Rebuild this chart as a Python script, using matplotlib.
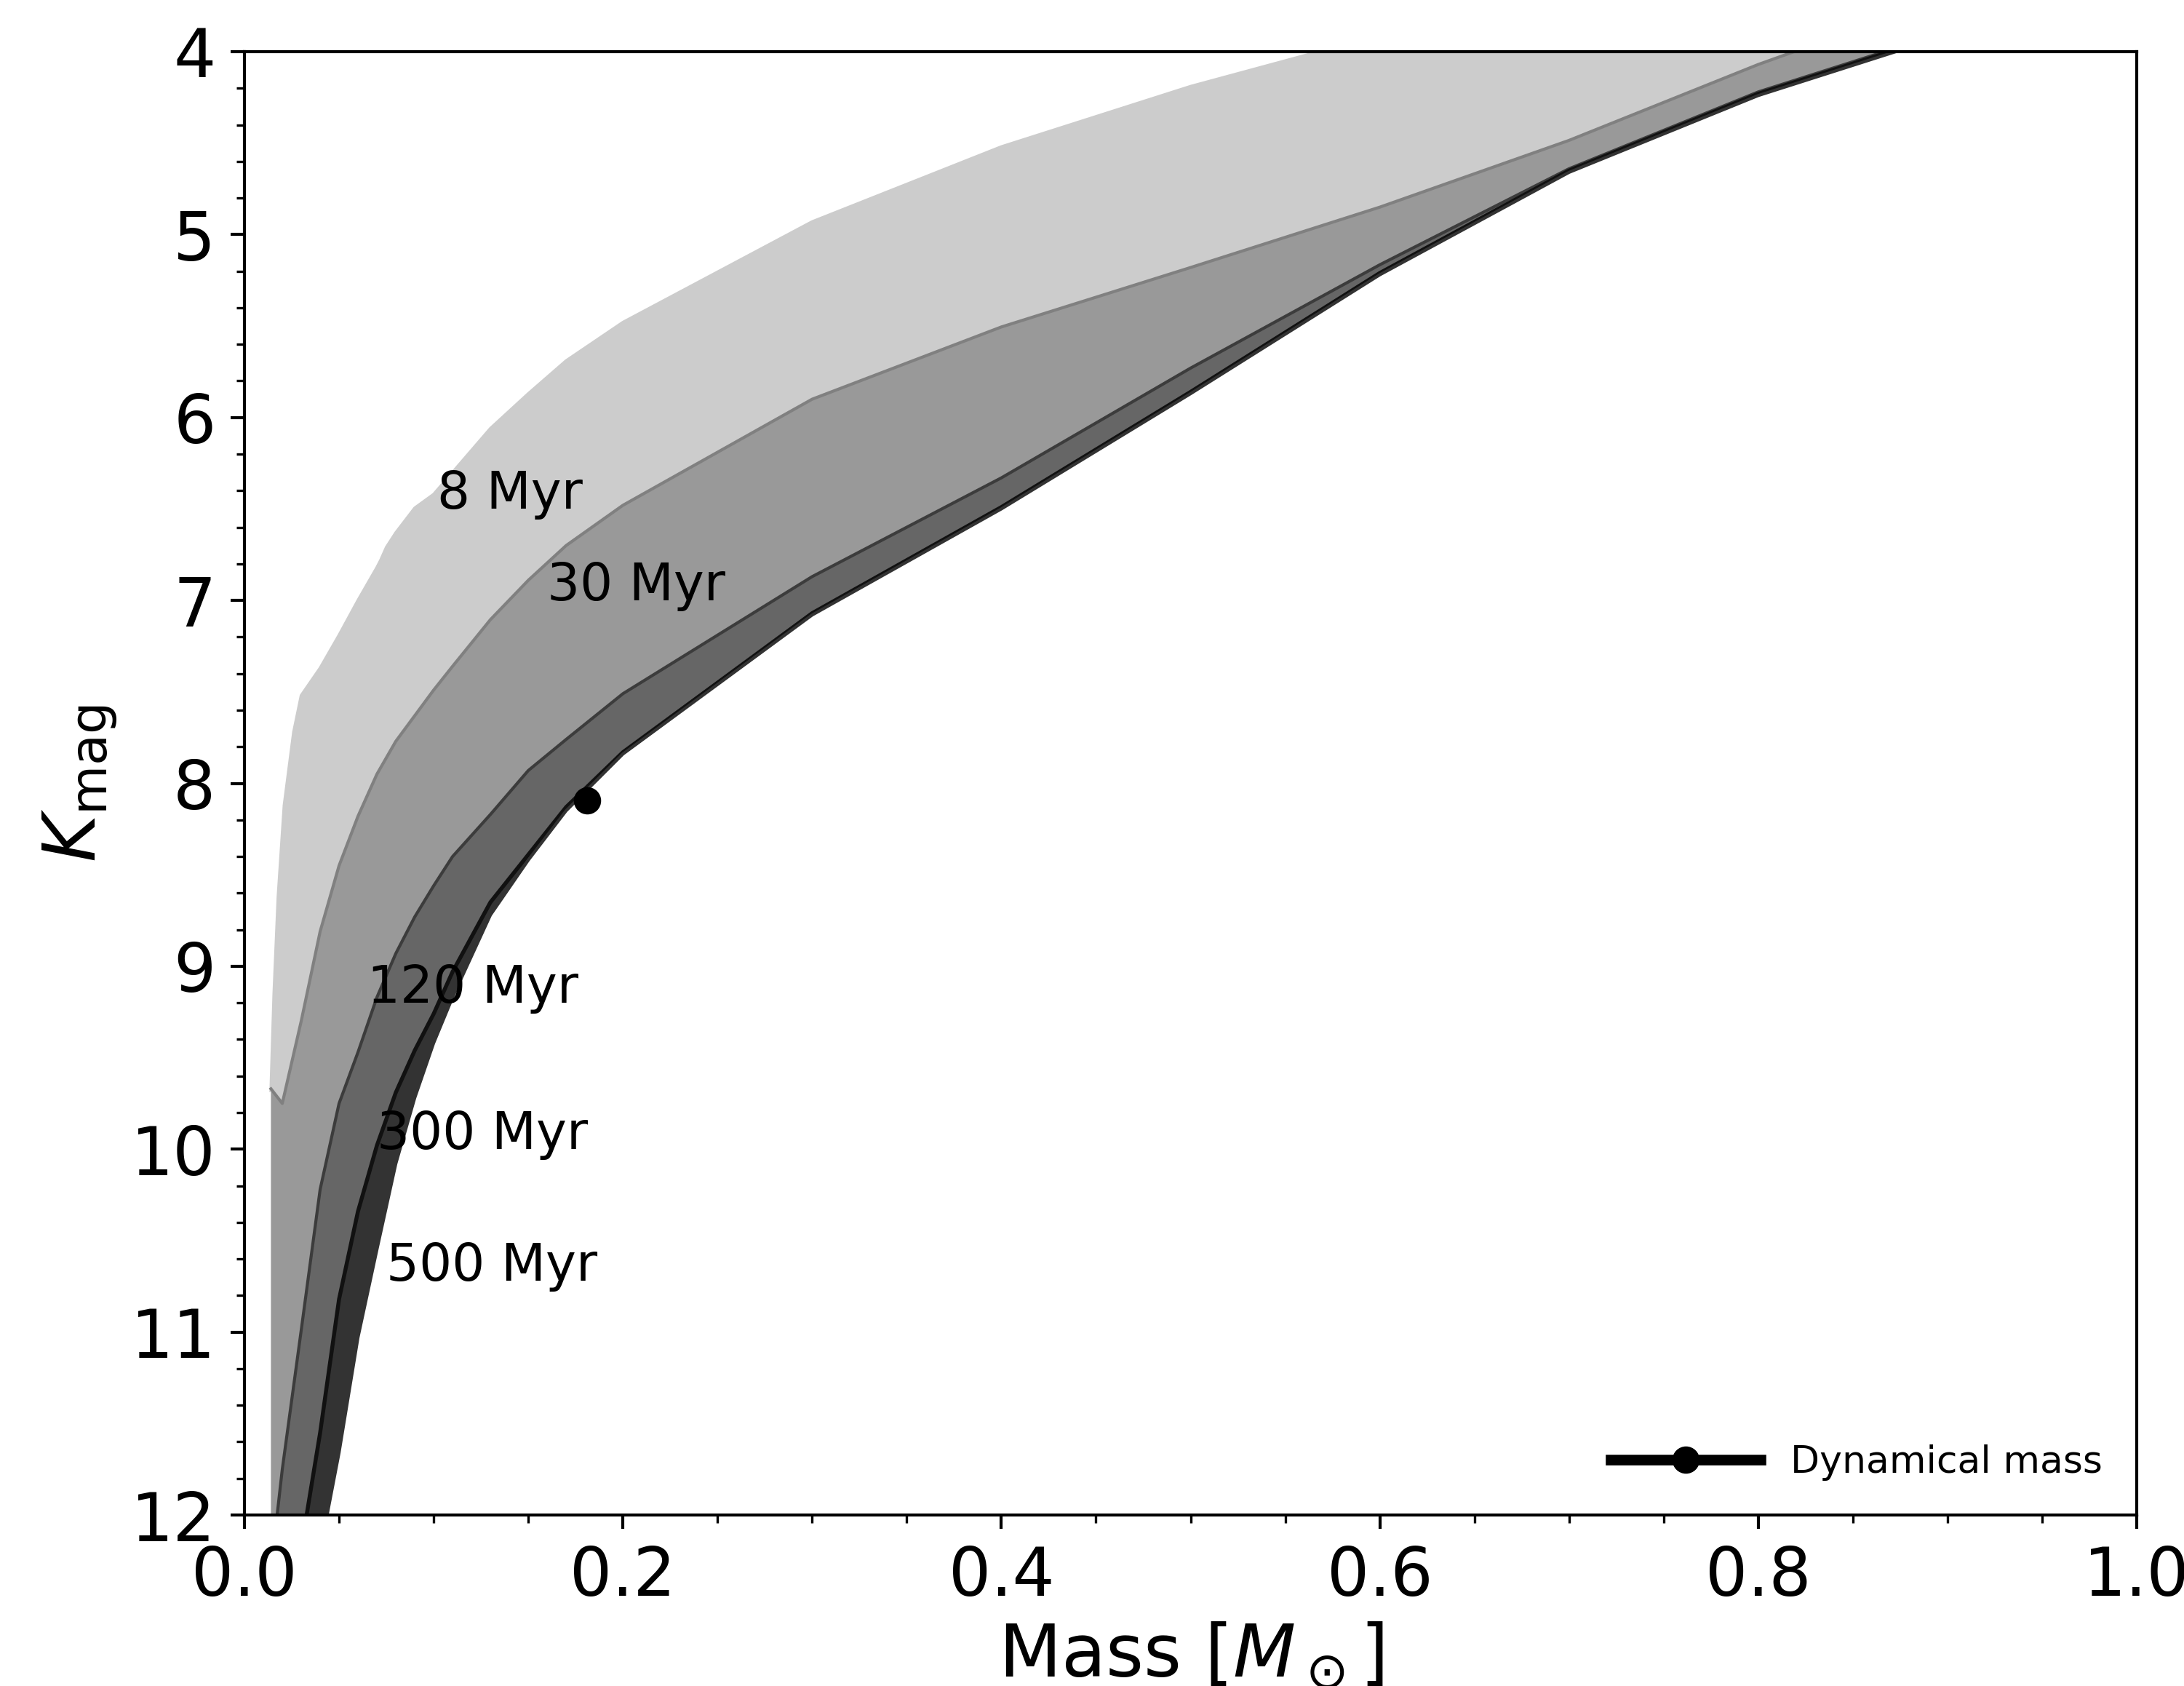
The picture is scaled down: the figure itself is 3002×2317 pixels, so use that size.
import matplotlib
matplotlib.use("Agg")
import matplotlib.pyplot as plt
from matplotlib.ticker import MultipleLocator
import numpy as np

# ---- isochrone data (mass [Msun], K magnitude) ----
m8 = [0.014, 0.0156, 0.0178, 0.021, 0.026, 0.03, 0.04, 0.05, 0.06, 0.07, 0.072,
      0.075, 0.08, 0.09, 0.10, 0.11, 0.13, 0.15, 0.17, 0.20, 0.30, 0.40, 0.50, 0.60]
k8 = [9.68, 9.15, 8.62, 8.12, 7.72, 7.52, 7.37, 7.19, 7.00, 6.82, 6.78,
      6.71, 6.63, 6.495, 6.42, 6.30, 6.06, 5.87, 5.69, 5.48, 4.93, 4.52, 4.19, 3.91]

m30 = [0.014, 0.02, 0.03, 0.04, 0.05, 0.06, 0.07, 0.08, 0.09, 0.10, 0.11, 0.13,
       0.15, 0.17, 0.20, 0.30, 0.40, 0.50, 0.60, 0.70, 0.80, 0.90]
k30 = [9.67, 9.75, 9.30, 8.81, 8.45, 8.18, 7.95, 7.77, 7.63, 7.49, 7.36, 7.105,
       6.89, 6.70, 6.48, 5.90, 5.505, 5.18, 4.85, 4.485, 4.07, 3.70]

m120 = [0.014, 0.02, 0.03, 0.04, 0.05, 0.06, 0.07, 0.08, 0.09, 0.10, 0.11, 0.13,
        0.15, 0.17, 0.20, 0.30, 0.40, 0.50, 0.60, 0.70, 0.80, 0.90]
k120 = [12.3, 11.75, 10.99, 10.22, 9.75, 9.47, 9.17, 8.93, 8.73, 8.56, 8.40, 8.17,
        7.93, 7.76, 7.51, 6.87, 6.33, 5.73, 5.165, 4.64, 4.22, 3.89]

m300 = [0.03, 0.04, 0.05, 0.06, 0.07, 0.08, 0.09, 0.10, 0.11, 0.13, 0.15, 0.17,
        0.20, 0.30, 0.40, 0.50, 0.60, 0.70, 0.80, 0.90]
k300 = [12.18, 11.55, 10.82, 10.34, 9.98, 9.69, 9.46, 9.26, 9.03, 8.65, 8.39, 8.13,
        7.83, 7.07, 6.49, 5.86, 5.21, 4.65, 4.23, 3.90]

m500 = [0.04, 0.05, 0.06, 0.07, 0.08, 0.09, 0.10, 0.11, 0.13, 0.15, 0.17, 0.20,
        0.30, 0.40, 0.50, 0.60, 0.70, 0.80, 0.90]
k500 = [12.2, 11.66, 11.03, 10.55, 10.08, 9.72, 9.42, 9.17, 8.72, 8.42, 8.15, 7.84,
        7.08, 6.50, 5.87, 5.22, 4.66, 4.24, 3.91]

age_labels = ["8 Myr", "30 Myr", "120 Myr", "300 Myr", "500 Myr"]
label_mass = [0.102, 0.160, 0.0648, 0.070, 0.0748]
label_kmag = [6.50, 7.00, 9.20, 10.00, 10.72]

dyn_mass = [0.181]
dyn_kmag = [8.095]

# ---- figure ----
fig = plt.figure(figsize=(3002 / 300, 2317 / 300), dpi=300)
ax = fig.add_axes([336 / 3002, 1 - 2082 / 2317, (2937 - 336) / 3002, (2082 - 71) / 2317])

curves = [(m8, k8), (m30, k30), (m120, k120), (m300, k300), (m500, k500)]
fill_colors = ["#cccccc", "#999999", "#666666", "#333333"]
line_colors = ["#cccccc", "#808080", "#3c3c3c", "#111111", "#333333"]
line_widths = [1.0, 1.0, 1.0, 1.3, 1.0]

for i in range(4):
    ma, ka = np.asarray(curves[i][0]), np.asarray(curves[i][1])
    mb, kb = np.asarray(curves[i + 1][0]), np.asarray(curves[i + 1][1])
    ax.fill(np.concatenate([ma, mb[::-1]]), np.concatenate([ka, kb[::-1]]),
            color=fill_colors[i], lw=0, zorder=1)

for (m, k), c, lw in zip(curves, line_colors, line_widths):
    ax.plot(m, k, color=c, lw=lw, zorder=2)

for t, x, y in zip(age_labels, label_mass, label_kmag):
    ax.text(x, y, t, fontsize=17, zorder=4)

ax.plot(dyn_mass, dyn_kmag, "o-", color="k", ms=8, lw=3.5,
        label="Dynamical mass", zorder=5)

ax.set_xlim(0, 1)
ax.set_ylim(12, 4)
ax.xaxis.set_major_locator(MultipleLocator(0.2))
ax.xaxis.set_minor_locator(MultipleLocator(0.05))
ax.yaxis.set_major_locator(MultipleLocator(1))
ax.yaxis.set_minor_locator(MultipleLocator(0.2))
ax.tick_params(which="major", length=4.5, width=1.0, labelsize=22, pad=5)
ax.tick_params(which="minor", length=2.6, width=0.8)
for s in ax.spines.values():
    s.set_linewidth(1.0)

ax.set_xlabel(r"Mass [$M_\odot$]", fontsize=24)
ax.set_ylabel(r"$K_{\rm mag}$", fontsize=24)

ax.legend(loc="lower right", frameon=False, fontsize=12.5, handlelength=3.95)

fig.savefig("out.png", dpi=300)
